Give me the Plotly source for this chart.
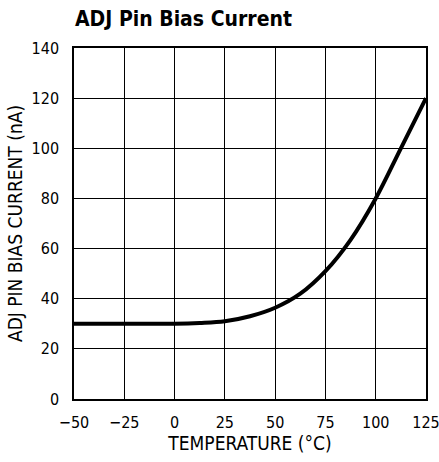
import plotly.graph_objects as go

# ADJ pin bias current vs temperature
temperature = [-50, -25, 0, 12.5, 25, 37.5, 50, 62.5, 75, 87.5, 100, 112.5, 125]
bias_current = [30, 30, 30, 30.3, 31, 33, 36.4, 42, 51, 63.5, 80, 100, 120]

x_ticks = [-50, -25, 0, 25, 50, 75, 100, 125]
x_labels = ["\u221250", "\u221225", "0", "25", "50", "75", "100", "125"]
y_ticks = [0, 20, 40, 60, 80, 100, 120, 140]

font_narrow = "DejaVu Sans Condensed, Liberation Sans Narrow, sans-serif"


def create_chart():
    fig = go.Figure()

    fig.add_trace(go.Scatter(
        x=temperature,
        y=bias_current,
        mode="lines",
        line=dict(color="black", width=4, shape="spline", smoothing=1.0),
        showlegend=False,
        hoverinfo="skip",
    ))

    fig.update_layout(
        width=439,
        height=462,
        margin=dict(l=74, r=13, t=48, b=63),
        paper_bgcolor="white",
        plot_bgcolor="white",
        font=dict(family=font_narrow, size=16, color="black"),
        title=dict(
            text="<b>ADJ Pin Bias Current</b>",
            font=dict(family=font_narrow, size=21, color="black"),
            x=75 / 439, xanchor="left",
            y=1 - 19 / 462, yanchor="middle",
        ),
        xaxis=dict(
            range=[-50, 125],
            tickvals=x_ticks,
            ticktext=x_labels,
            showgrid=True, gridcolor="black", gridwidth=1,
            showline=True, linecolor="black", linewidth=1.5, mirror=True,
            ticks="", ticklabelstandoff=8, ticklabeloverflow="allow",
            zeroline=False, automargin=False,
            title=dict(text="TEMPERATURE (\u00b0C)", standoff=6),
        ),
        yaxis=dict(
            range=[0, 140],
            tickvals=y_ticks,
            showgrid=True, gridcolor="black", gridwidth=1,
            showline=True, linecolor="black", linewidth=1.5, mirror=True,
            ticks="", ticklabelstandoff=10, ticklabeloverflow="allow",
            zeroline=False, automargin=False,
            title=dict(text="ADJ PIN BIAS CURRENT (nA)", standoff=4),
        ),
    )
    return fig


if __name__ == "__main__":
    fig = create_chart()
    # drop the default page margin so the figure sits at the window's corner
    fig.write_html(
        "out.html",
        config={"displayModeBar": False},
        post_script="document.body.style.margin = '0';",
    )
